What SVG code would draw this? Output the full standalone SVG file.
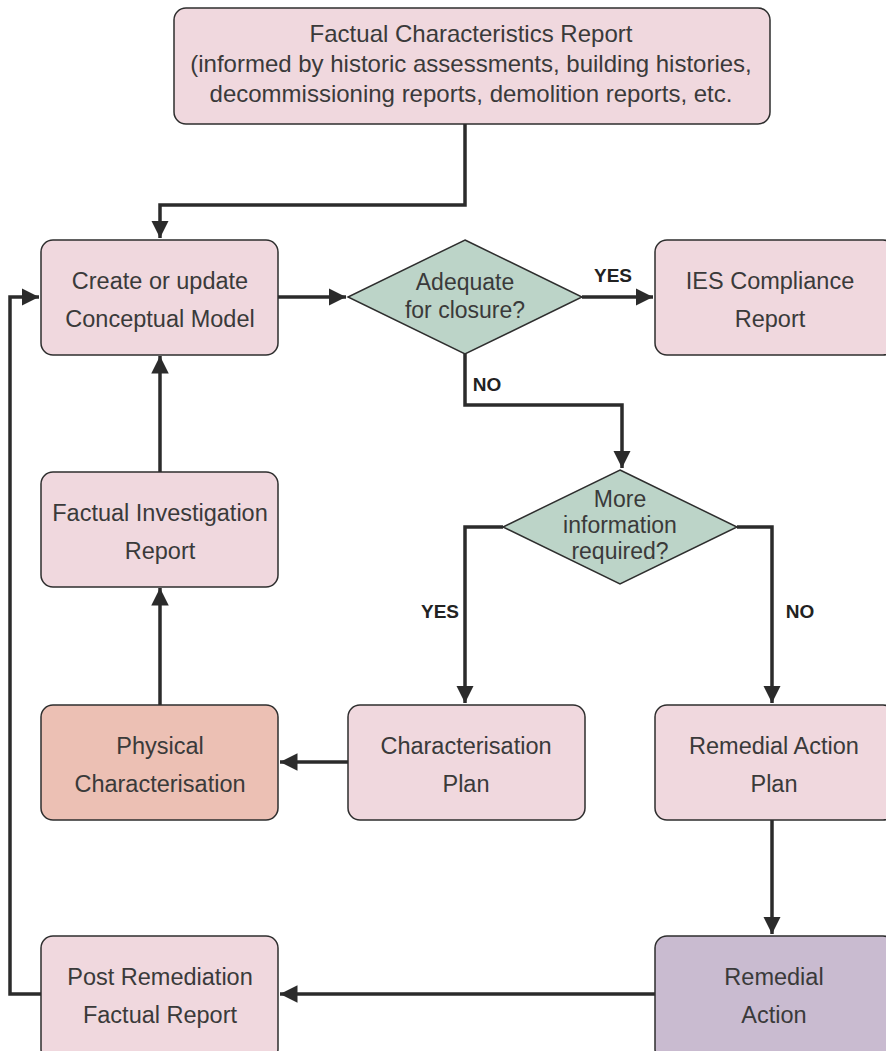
<svg xmlns="http://www.w3.org/2000/svg" width="886" height="1051" viewBox="0 0 886 1051">
  <defs>
    <style>
      .box { fill: #f0d8de; stroke: #2e2e2e; stroke-width: 1.5; }
      .phys { fill: #ecc0b4; }
      .act { fill: #c9bbd0; }
      .dia { fill: #bcd4c8; stroke: #2e2e2e; stroke-width: 1.5; }
      .t { font-family: "Liberation Sans", Arial, sans-serif; font-size: 23.5px; fill: #3a3a3a; text-anchor: middle; }
      .lbl { font-family: "Liberation Sans", Arial, sans-serif; font-size: 19px; font-weight: bold; fill: #222; text-anchor: middle; }
      .wire { fill: none; stroke: #2b2b2b; stroke-width: 3.5; }
    </style>
    <marker id="arrow" viewBox="0 0 10 10" refX="10" refY="5" markerWidth="5" markerHeight="5" markerUnits="strokeWidth" orient="auto">
      <path d="M0,0 L10,5 L0,10 Z" fill="#2b2b2b"/>
    </marker>
  </defs>

  <g id="connectors">
    <path class="wire" d="M465,124 V205 H160 V238" marker-end="url(#arrow)"/>
    <path class="wire" d="M278,297 H346" marker-end="url(#arrow)"/>
    <path class="wire" d="M582,297 H653" marker-end="url(#arrow)"/>
    <path class="wire" d="M465,354 V405 H622 V468" marker-end="url(#arrow)"/>
    <path class="wire" d="M503,527 H465 V703" marker-end="url(#arrow)"/>
    <path class="wire" d="M737,527 H772 V703" marker-end="url(#arrow)"/>
    <path class="wire" d="M160,472 V356" marker-end="url(#arrow)"/>
    <path class="wire" d="M160,705 V588" marker-end="url(#arrow)"/>
    <path class="wire" d="M348,762 H280" marker-end="url(#arrow)"/>
    <path class="wire" d="M772,820 V934" marker-end="url(#arrow)"/>
    <path class="wire" d="M655,994 H280" marker-end="url(#arrow)"/>
    <path class="wire" d="M41,994 H10 V297 H39" marker-end="url(#arrow)"/>
    <text class="lbl" x="613" y="282">YES</text>
    <text class="lbl" x="487" y="391">NO</text>
    <text class="lbl" x="440" y="618">YES</text>
    <text class="lbl" x="800" y="618">NO</text>
  </g>

  <g id="factual-characteristics">
    <rect class="box" x="174" y="8" width="596" height="116" rx="12"/>
    <text class="t" x="471" y="42" style="font-size:24px">Factual Characteristics Report</text>
    <text class="t" x="471" y="72" style="font-size:24px">(informed by historic assessments, building histories,</text>
    <text class="t" x="471" y="102" style="font-size:24px">decommissioning reports, demolition reports, etc.</text>
  </g>

  <g id="conceptual-model">
    <rect class="box" x="41" y="240" width="237" height="115" rx="12"/>
    <text class="t" x="160" y="289">Create or update</text>
    <text class="t" x="160" y="327">Conceptual Model</text>
  </g>

  <g id="adequate">
    <polygon class="dia" points="465,240 582,297 465,354 348,297"/>
    <text class="t" x="465" y="290" style="font-size:23px">Adequate</text>
    <text class="t" x="465" y="318" style="font-size:23px">for closure?</text>
  </g>

  <g id="ies-compliance">
    <rect class="box" x="655" y="240" width="240" height="115" rx="12"/>
    <text class="t" x="770" y="289">IES Compliance</text>
    <text class="t" x="770" y="327">Report</text>
  </g>

  <g id="more-info">
    <polygon class="dia" points="620,470 737,527 620,584 503,527"/>
    <text class="t" x="620" y="507" style="font-size:23px">More</text>
    <text class="t" x="620" y="533" style="font-size:23px">information</text>
    <text class="t" x="620" y="559" style="font-size:23px">required?</text>
  </g>

  <g id="factual-investigation">
    <rect class="box" x="41" y="472" width="237" height="115" rx="12"/>
    <text class="t" x="160" y="521">Factual Investigation</text>
    <text class="t" x="160" y="559">Report</text>
  </g>

  <g id="physical-characterisation">
    <rect class="box phys" x="41" y="705" width="237" height="115" rx="12"/>
    <text class="t" x="160" y="754">Physical</text>
    <text class="t" x="160" y="792">Characterisation</text>
  </g>

  <g id="characterisation-plan">
    <rect class="box" x="348" y="705" width="237" height="115" rx="12"/>
    <text class="t" x="466" y="754">Characterisation</text>
    <text class="t" x="466" y="792">Plan</text>
  </g>

  <g id="remedial-action-plan">
    <rect class="box" x="655" y="705" width="240" height="115" rx="12"/>
    <text class="t" x="774" y="754">Remedial Action</text>
    <text class="t" x="774" y="792">Plan</text>
  </g>

  <g id="post-remediation">
    <rect class="box" x="41" y="936" width="237" height="125" rx="12"/>
    <text class="t" x="160" y="985">Post Remediation</text>
    <text class="t" x="160" y="1023">Factual Report</text>
  </g>

  <g id="remedial-action">
    <rect class="box act" x="655" y="936" width="240" height="125" rx="12"/>
    <text class="t" x="774" y="985">Remedial</text>
    <text class="t" x="774" y="1023">Action</text>
  </g>
</svg>
